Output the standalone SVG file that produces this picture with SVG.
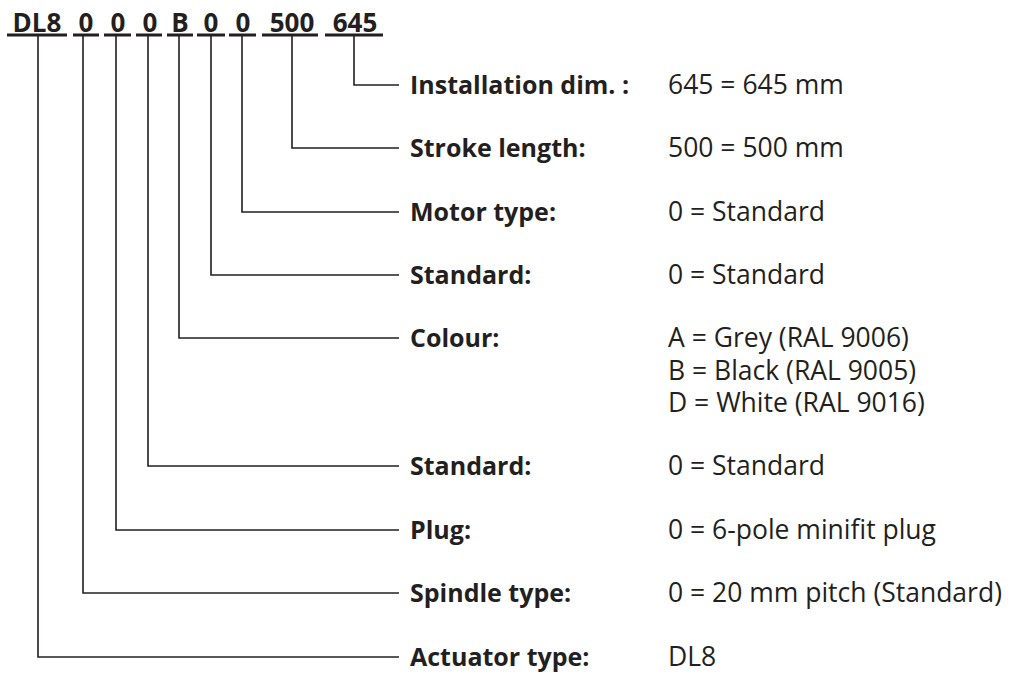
<svg xmlns="http://www.w3.org/2000/svg" width="1011" height="678" viewBox="0 0 1011 678">
<style>
.code{font-family:"Open Sans","Liberation Sans",sans-serif;font-weight:bold;font-size:26px;fill:#231f20;text-anchor:middle}
.lbl{font-family:"Open Sans","Liberation Sans",sans-serif;font-weight:bold;font-size:25px;fill:#231f20}
.val{font-family:"Open Sans","Liberation Sans",sans-serif;font-size:26.5px;fill:#231f20}
.bar{stroke:#231f20;stroke-width:3;fill:none}
.ln{stroke:#231f20;stroke-width:1.6;fill:none}
</style>
<rect width="1011" height="678" fill="#fff"/>
<g id="code">
<text class="code" x="37" y="32">DL8</text>
<text class="code" x="86" y="32">0</text>
<text class="code" x="118" y="32">0</text>
<text class="code" x="150" y="32">0</text>
<text class="code" x="180" y="32">B</text>
<text class="code" x="211" y="32">0</text>
<text class="code" x="243" y="32">0</text>
<text class="code" x="292" y="32">500</text>
<text class="code" x="355" y="32">645</text>
<path class="bar" d="M7 35H67M73 35H99M104 35H131M136 35H162M167 35H193M197 35H225M229 35H256M262 35H318M325 35H383"/>
</g>
<g id="connectors">
<path class="ln" d="M354 35V85H399"/>
<path class="ln" d="M292 35V148H399"/>
<path class="ln" d="M242 35V212H399"/>
<path class="ln" d="M211 35V275H399"/>
<path class="ln" d="M179 35V338H399"/>
<path class="ln" d="M148 35V466H399"/>
<path class="ln" d="M116 35V530H399"/>
<path class="ln" d="M83 35V593H399"/>
<path class="ln" d="M38 35V657H399"/>
</g>
<g id="installation"><text class="lbl" x="410" y="94">Installation dim. :</text><text class="val" x="668" y="94">645 = 645 mm</text></g>
<g id="stroke"><text class="lbl" x="410" y="157">Stroke length:</text><text class="val" x="668" y="157">500 = 500 mm</text></g>
<g id="motor"><text class="lbl" x="410" y="221">Motor type:</text><text class="val" x="668" y="221">0 = Standard</text></g>
<g id="standard1"><text class="lbl" x="410" y="284">Standard:</text><text class="val" x="668" y="284">0 = Standard</text></g>
<g id="colour"><text class="lbl" x="410" y="347">Colour:</text><text class="val" x="668" y="347">A = Grey (RAL 9006)<tspan x="668" dy="32.5">B = Black (RAL 9005)</tspan><tspan x="668" dy="32.5">D = White (RAL 9016)</tspan></text></g>
<g id="standard2"><text class="lbl" x="410" y="475">Standard:</text><text class="val" x="668" y="475">0 = Standard</text></g>
<g id="plug"><text class="lbl" x="410" y="539">Plug:</text><text class="val" x="668" y="539">0 = 6-pole minifit plug</text></g>
<g id="spindle"><text class="lbl" x="410" y="602">Spindle type:</text><text class="val" x="668" y="602">0 = 20 mm pitch (Standard)</text></g>
<g id="actuator"><text class="lbl" x="410" y="666">Actuator type:</text><text class="val" x="668" y="666">DL8</text></g>
</svg>
